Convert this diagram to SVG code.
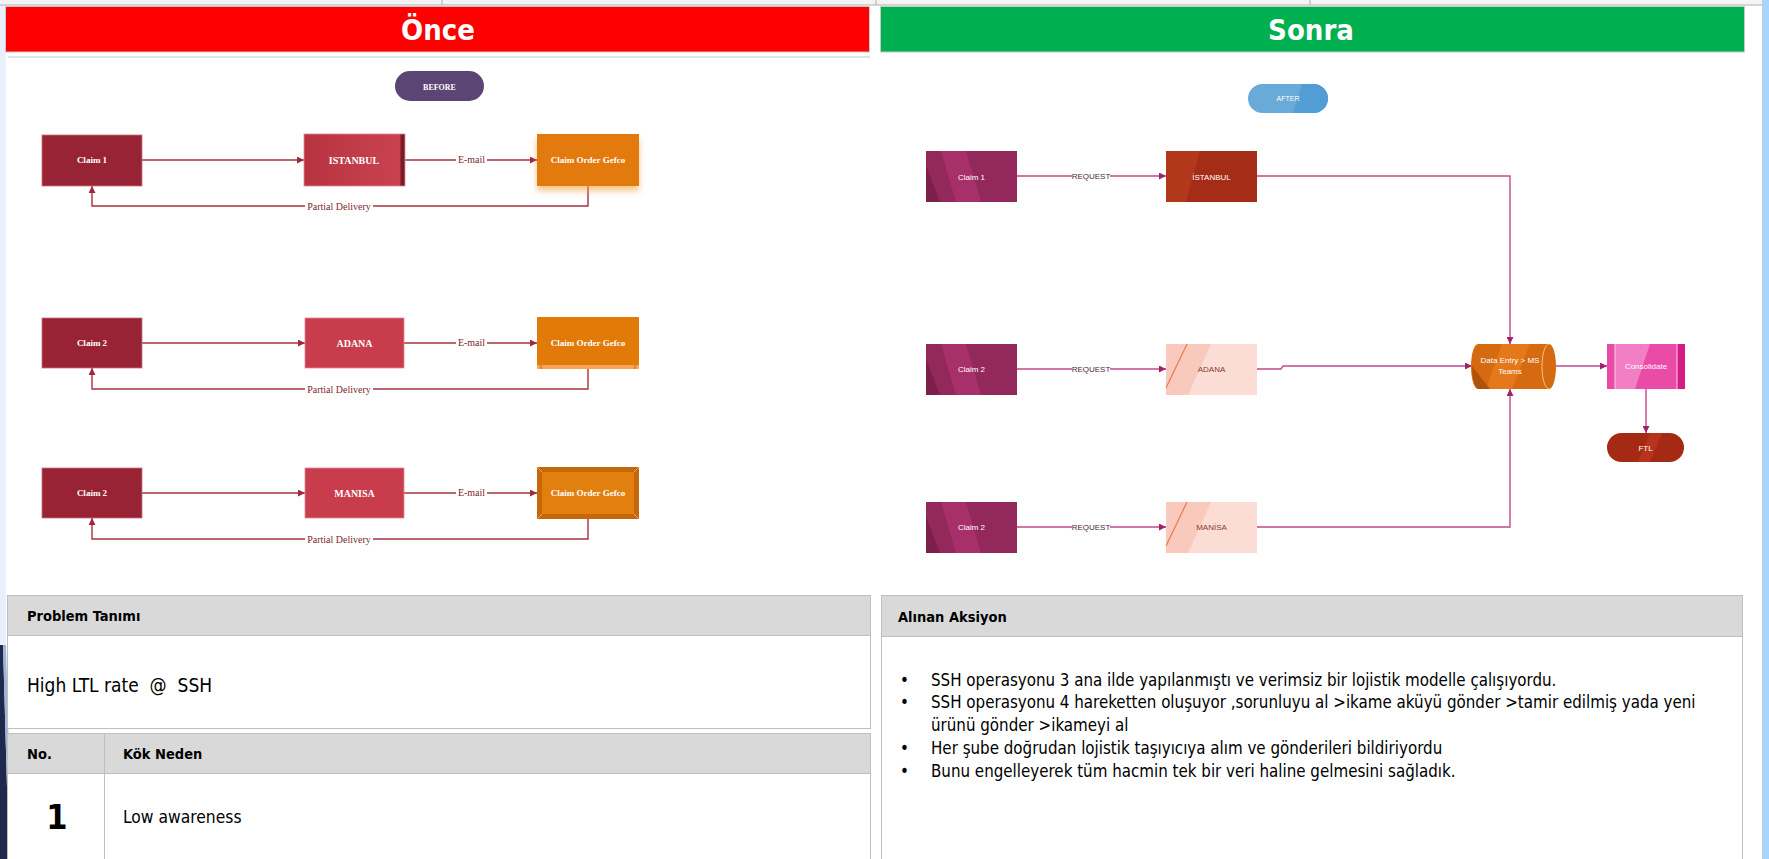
<svg xmlns="http://www.w3.org/2000/svg" width="1769" height="859" viewBox="0 0 1769 859">
<defs>
<style>
.title{font-family:"DejaVu Sans Condensed","DejaVu Sans",sans-serif;font-weight:bold;font-size:29px;fill:#fff;text-anchor:middle}
.bl{font-family:"Liberation Serif",serif;font-weight:bold;font-size:9px;fill:#fff;text-anchor:middle}
.bc{font-family:"Liberation Serif",serif;font-weight:bold;font-size:10px;fill:#fff;text-anchor:middle}
.el{font-family:"Liberation Serif",serif;font-size:10px;fill:#7a1f2e;text-anchor:middle}
.al{font-family:"Liberation Sans",sans-serif;font-size:8px;fill:#fff;text-anchor:middle}
.ad{font-family:"Liberation Sans",sans-serif;font-size:8px;fill:#8a3a2a;text-anchor:middle}
.req{font-family:"Liberation Sans",sans-serif;font-size:8px;fill:#4a2a3a;text-anchor:middle}
.lc{fill:none;stroke:#a8303f;stroke-width:1.4}
.rc{fill:none;stroke:#c04a8a;stroke-width:1.4}
.th{font-family:"DejaVu Sans Condensed","DejaVu Sans",sans-serif;font-weight:bold;font-size:14.5px;fill:#000}
.tb{font-family:"DejaVu Sans Condensed","DejaVu Sans",sans-serif;font-size:15px;fill:#000;white-space:pre}
.bt{font-family:"DejaVu Sans Condensed","DejaVu Sans",sans-serif;font-size:16.8px;fill:#000}
.hdr{fill:#d9d9d9;stroke:#bfbfbf;stroke-width:1}
.cell{fill:#fff;stroke:#bfbfbf;stroke-width:1}
.lbg{fill:#fff}
.claimL{fill:#982335;stroke:#c8707c;stroke-width:0.8}
.cityL{fill:#c93c4c;stroke:#e08a94;stroke-width:0.8}
.gefco{fill:#e27a0a}
.claimR{fill:#93285a}
.claimRl{fill:#a8306a}
.claimRd{fill:#7c1f4a}
.pale{fill:#fbddd5}
.paleb{fill:#f8c9bc}
</style>
<marker id="ml" viewBox="0 0 10 10" refX="10" refY="5" markerWidth="7" markerHeight="7" markerUnits="userSpaceOnUse" orient="auto"><path d="M0,0 L10,5 L0,10 z" fill="#a0283c"/></marker>
<marker id="mr" viewBox="0 0 10 10" refX="10" refY="5" markerWidth="7" markerHeight="7" markerUnits="userSpaceOnUse" orient="auto"><path d="M0,0 L10,5 L0,10 z" fill="#a3206a"/></marker>
<filter id="sh" x="-20%" y="-20%" width="140%" height="160%"><feDropShadow dx="0" dy="5" stdDeviation="3" flood-color="#f0a040" flood-opacity="0.6"/></filter>
<linearGradient id="ist" x1="0" y1="0" x2="1" y2="0"><stop offset="0" stop-color="#b8323f"/><stop offset="0.95" stop-color="#c94250"/><stop offset="0.96" stop-color="#7d1a28"/><stop offset="1" stop-color="#7d1a28"/></linearGradient>
</defs>

<!-- background edges -->
<rect x="0" y="0" width="1769" height="859" fill="#fff"/>
<rect x="0" y="0" width="6" height="859" fill="#e8f1fb"/>
<polygon points="0,645 3,645 9,859 0,859" fill="#1d2a4c"/>
<polygon points="3,645 6,645 12,859 9,859" fill="#9fb4d6"/>
<rect x="1762" y="0" width="7" height="859" fill="#a9d4fa"/>

<!-- top strip -->
<rect x="0" y="0" width="1762" height="5" fill="#f4f4f4"/>
<line x1="0" y1="5" x2="1762" y2="5" stroke="#b0b0b0" stroke-width="1"/>
<line x1="442" y1="0" x2="442" y2="5" stroke="#b0b0b0"/>
<line x1="876" y1="0" x2="876" y2="5" stroke="#b0b0b0"/>
<line x1="1310" y1="0" x2="1310" y2="5" stroke="#b0b0b0"/>

<!-- headers -->
<g id="hdr-once">
<rect x="5.5" y="6.5" width="864" height="45.5" fill="#ff0000" stroke="#c8c8c8" stroke-width="1"/>
<line x1="8" y1="57" x2="870" y2="57" stroke="#e2e2e2" stroke-width="2"/>
<text class="title" x="438" y="40">Önce</text>
</g>
<g id="hdr-sonra">
<rect x="880.5" y="6.5" width="864" height="45.5" fill="#00b050" stroke="#c8c8c8" stroke-width="1"/>
<text class="title" x="1311" y="40">Sonra</text>
</g>

<!-- pills -->
<g id="before">
<rect x="395" y="71" width="89" height="30" rx="15" fill="#5b4575"/>
<text class="bc" x="439.5" y="89.5" style="font-size:8px">BEFORE</text>
</g>
<g id="after">
<rect x="1248" y="84" width="80" height="29" rx="14.5" fill="#6aaad9"/>
<path d="M1302,84 H1313.5 A14.5,14.5 0 0 1 1313.5,113 H1293 Z" fill="#529dd6"/>
<text class="al" x="1288" y="101" style="font-size:7px">AFTER</text>
</g>

<!-- connectors -->
<g id="connectors">
<path class="lc" d="M142,160 H304" marker-end="url(#ml)"/>
<path class="lc" d="M405,160 H537" marker-end="url(#ml)"/>
<path class="lc" d="M588,186 V206 H92 V186" marker-end="url(#ml)"/>
<path class="lc" d="M142,343 H305" marker-end="url(#ml)"/>
<path class="lc" d="M404,343 H537" marker-end="url(#ml)"/>
<path class="lc" d="M588,369 V389 H92 V368" marker-end="url(#ml)"/>
<path class="lc" d="M142,493 H305" marker-end="url(#ml)"/>
<path class="lc" d="M404,493 H537" marker-end="url(#ml)"/>
<path class="lc" d="M588,519 V539 H92 V518" marker-end="url(#ml)"/>
<rect class="lbg" x="456" y="154" width="31" height="12"/><text class="el" x="471.5" y="163">E-mail</text>
<rect class="lbg" x="305" y="200" width="68" height="12"/><text class="el" x="339" y="209.5">Partial Delivery</text>
<rect class="lbg" x="456" y="337" width="31" height="12"/><text class="el" x="471.5" y="346">E-mail</text>
<rect class="lbg" x="305" y="383" width="68" height="12"/><text class="el" x="339" y="392.5">Partial Delivery</text>
<rect class="lbg" x="456" y="487" width="31" height="12"/><text class="el" x="471.5" y="496">E-mail</text>
<rect class="lbg" x="305" y="533" width="68" height="12"/><text class="el" x="339" y="542.5">Partial Delivery</text>

<path class="rc" d="M1017,176 H1166" marker-end="url(#mr)"/>
<path class="rc" d="M1257,176 H1510 V344" marker-end="url(#mr)"/>
<path class="rc" d="M1017,369 H1166" marker-end="url(#mr)"/>
<path class="rc" d="M1257,369 H1281 L1283,366 H1472" marker-end="url(#mr)"/>
<path class="rc" d="M1017,527 H1166" marker-end="url(#mr)"/>
<path class="rc" d="M1257,527 H1510 V389" marker-end="url(#mr)"/>
<path class="rc" d="M1556,366 H1607" marker-end="url(#mr)"/>
<path class="rc" d="M1646,389 V433" marker-end="url(#mr)"/>
<rect class="lbg" x="1072" y="170" width="38" height="11"/><text class="req" x="1091" y="179">REQUEST</text>
<rect class="lbg" x="1072" y="363" width="38" height="11"/><text class="req" x="1091" y="372">REQUEST</text>
<rect class="lbg" x="1072" y="521" width="38" height="11"/><text class="req" x="1091" y="530">REQUEST</text>
</g>

<!-- left nodes -->
<g id="l-claim1"><rect class="claimL" x="42" y="135" width="100" height="51"/><text class="bl" x="92" y="163">Claim 1</text></g>
<g id="l-istanbul"><rect x="304" y="134" width="101" height="52" fill="url(#ist)" stroke="#e08a94" stroke-width="0.8"/><text class="bc" x="354" y="164">ISTANBUL</text></g>
<g id="l-gefco1"><rect class="gefco" x="537" y="134" width="102" height="52" filter="url(#sh)"/><text class="bl" x="588" y="163">Claim Order Gefco</text></g>

<g id="l-claim2"><rect class="claimL" x="42" y="318" width="100" height="50"/><text class="bl" x="92" y="346">Claim 2</text></g>
<g id="l-adana"><rect class="cityL" x="305" y="318" width="99" height="50"/><text class="bc" x="354.5" y="347">ADANA</text></g>
<g id="l-gefco2"><rect class="gefco" x="537" y="317" width="102" height="52" fill="#e67c0a"/><rect x="537" y="365" width="102" height="4" fill="#f4a656"/><line x1="541" y1="365" x2="541" y2="369" stroke="#c86a08"/><line x1="635" y1="365" x2="635" y2="369" stroke="#c86a08"/><text class="bl" x="588" y="346">Claim Order Gefco</text></g>

<g id="l-claim3"><rect class="claimL" x="42" y="468" width="100" height="50"/><text class="bl" x="92" y="496">Claim 2</text></g>
<g id="l-manisa"><rect class="cityL" x="305" y="468" width="99" height="50"/><text class="bc" x="354.5" y="497">MANISA</text></g>
<g id="l-gefco3"><rect x="537" y="467" width="102" height="52" fill="#c4680a"/><rect x="542" y="472" width="92" height="42" fill="#e2800f"/><path d="M537,467 L542,472 M639,467 L634,472 M537,519 L542,514 M639,519 L634,514" stroke="#f2a552" stroke-width="1"/><text class="bl" x="588" y="496">Claim Order Gefco</text></g>

<!-- right nodes -->
<g id="r-claim1">
<rect class="claimR" x="926" y="151" width="91" height="51"/>
<polygon class="claimRl" points="941,151 966,151 981,202 956,202"/>
<polygon class="claimRd" points="926,166 940,202 926,202"/>
<text class="al" x="971.5" y="179.5">Claim 1</text>
</g>
<g id="r-istanbul">
<rect x="1166" y="151" width="91" height="51" fill="#a52d17"/>
<polygon points="1166,151 1200,151 1186,202 1166,202" fill="#b2381c"/>
<text class="al" x="1211.5" y="179.5">İSTANBUL</text>
</g>
<g id="r-claim2">
<rect class="claimR" x="926" y="344" width="91" height="51"/>
<polygon class="claimRl" points="941,344 966,344 981,395 956,395"/>
<polygon class="claimRd" points="926,359 940,395 926,395"/>
<text class="al" x="971.5" y="372">Claim 2</text>
</g>
<g id="r-adana">
<rect class="pale" x="1166" y="344" width="91" height="51"/>
<polygon class="paleb" points="1166,344 1211,344 1188,395 1166,395"/>
<line x1="1187" y1="344" x2="1166" y2="388" stroke="#ec7a4a" stroke-width="1.2"/>
<text class="ad" x="1211.5" y="372">ADANA</text>
</g>
<g id="r-claim3">
<rect class="claimR" x="926" y="502" width="91" height="51"/>
<polygon class="claimRl" points="941,502 966,502 981,553 956,553"/>
<polygon class="claimRd" points="926,517 940,553 926,553"/>
<text class="al" x="971.5" y="530">Claim 2</text>
</g>
<g id="r-manisa">
<rect class="pale" x="1166" y="502" width="91" height="51"/>
<polygon class="paleb" points="1166,502 1211,502 1188,553 1166,553"/>
<line x1="1187" y1="502" x2="1166" y2="546" stroke="#ec7a4a" stroke-width="1.2"/>
<text class="ad" x="1211.5" y="530">MANİSA</text>
</g>
<g id="r-dataentry">
<path d="M1478,344 H1549 A7,22.5 0 0 1 1549,389 H1478 A7,22.5 0 0 1 1478,344 Z" fill="#d56a10"/>
<path d="M1502,344 H1530 L1512,389 H1486 Z" fill="#e4781a"/>
<path d="M1472,366 L1490,389 H1478 A7,22.5 0 0 1 1472,366 Z" fill="#b0520a"/>
<path d="M1549,344 A7,22.5 0 0 0 1549,389" fill="none" stroke="#f5c08a" stroke-width="1"/>
<text class="al" x="1510" y="363">Data Entry &gt; MS</text>
<text class="al" x="1510" y="374">Teams</text>
</g>
<g id="r-consolidate">
<rect x="1607" y="344" width="78" height="45" fill="#ea4ba6"/>
<polygon points="1615,344 1650,344 1635,389 1615,389" fill="#f27fc3"/>
<rect x="1677" y="344" width="8" height="45" fill="#d61c80"/>
<line x1="1615" y1="344" x2="1615" y2="389" stroke="#fbd0e8" stroke-width="1"/>
<line x1="1677" y1="344" x2="1677" y2="389" stroke="#fbd0e8" stroke-width="1"/>
<text class="al" x="1646" y="369">Consolidate</text>
</g>
<g id="r-ftl">
<rect x="1607" y="433" width="77" height="29" rx="14.5" fill="#a52a14"/>
<path d="M1650,433 H1662 L1650,462 H1638 Z" fill="#b5341a"/>
<text class="al" x="1645.5" y="450.5">FTL</text>
</g>

<!-- bottom left table -->
<g id="problem-table">
<rect class="hdr" x="7.5" y="595.5" width="863" height="40"/>
<text class="th" x="27" y="621">Problem Tanımı</text>
<rect class="cell" x="7.5" y="635.5" width="863" height="93"/>
<text class="tb" x="27" y="692" style="font-size:19px">High LTL rate  @  SSH</text>
<rect class="hdr" x="7.5" y="733.5" width="863" height="40"/>
<text class="th" x="27" y="759">No.</text>
<text class="th" x="123" y="759">Kök Neden</text>
<rect class="cell" x="7.5" y="773.5" width="863" height="90"/>
<line x1="104.5" y1="733" x2="104.5" y2="859" stroke="#bfbfbf"/>
<text class="th" x="57" y="829" style="font-size:34px;text-anchor:middle">1</text>
<text class="tb" x="123" y="823" style="font-size:17.3px">Low awareness</text>
</g>

<!-- bottom right table -->
<g id="action-table">
<rect class="hdr" x="881.5" y="595.5" width="861" height="41"/>
<text class="th" x="898" y="622">Alınan Aksiyon</text>
<rect class="cell" x="881.5" y="636.5" width="861" height="226"/>
<text class="bt" x="900" y="686">•</text><text class="bt" x="931" y="686">SSH operasyonu 3 ana ilde yapılanmıştı ve verimsiz bir lojistik modelle çalışıyordu.</text>
<text class="bt" x="900" y="708">•</text><text class="bt" x="931" y="708">SSH operasyonu 4 hareketten oluşuyor ,sorunluyu al &gt;ikame aküyü gönder &gt;tamir edilmiş yada yeni</text>
<text class="bt" x="931" y="731">ürünü gönder &gt;ikameyi al</text>
<text class="bt" x="900" y="754">•</text><text class="bt" x="931" y="754">Her şube doğrudan lojistik taşıyıcıya alım ve gönderileri bildiriyordu</text>
<text class="bt" x="900" y="777">•</text><text class="bt" x="931" y="777">Bunu engelleyerek tüm hacmin tek bir veri haline gelmesini sağladık.</text>
</g>
</svg>
